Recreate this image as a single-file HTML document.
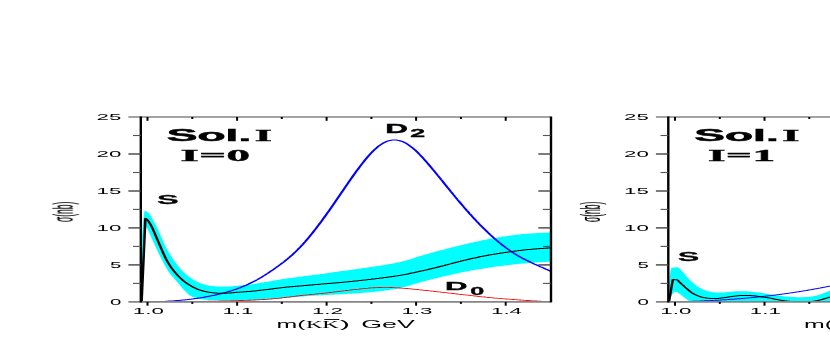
<!DOCTYPE html>
<html><head><meta charset="utf-8"><title>chart</title><style>html,body{margin:0;padding:0;background:#fff;overflow:hidden}svg{display:block}</style></head><body>
<svg width="830" height="339" viewBox="0 0 830 339">
<rect width="830" height="339" fill="#fff"/>
<defs><clipPath id="c1"><rect x="141" y="110" width="411" height="192.3"/></clipPath><clipPath id="c2"><rect x="668" y="110" width="170" height="192.3"/></clipPath></defs>
<g clip-path="url(#c1)">
<path d="M141.8,240.0 L143.2,220.4 L144.5,210.7 L145.9,210.9 L147.3,211.7 L148.6,212.9 L150.0,214.8 L151.4,217.0 L152.7,219.5 L154.1,221.9 L155.5,224.4 L156.9,227.1 L158.2,230.1 L159.6,233.2 L161.0,236.4 L162.3,239.6 L163.7,242.7 L165.1,245.7 L166.4,248.4 L167.8,250.8 L169.2,253.0 L170.5,255.2 L171.9,257.3 L173.3,259.4 L174.6,261.4 L176.0,263.3 L177.4,265.1 L178.8,266.8 L180.1,268.5 L181.5,270.0 L182.9,271.5 L184.2,272.8 L185.6,274.0 L187.0,275.1 L188.3,276.2 L189.7,277.2 L191.1,278.1 L192.4,279.0 L193.8,279.9 L195.2,280.7 L196.5,281.5 L197.9,282.1 L199.3,282.7 L200.6,283.3 L202.0,283.8 L203.4,284.2 L204.8,284.6 L206.1,284.9 L207.5,285.2 L208.9,285.5 L210.2,285.7 L211.6,285.9 L213.0,286.1 L214.3,286.2 L215.7,286.3 L217.1,286.4 L218.4,286.4 L219.8,286.5 L221.2,286.5 L222.5,286.5 L223.9,286.5 L225.3,286.5 L226.7,286.5 L228.0,286.5 L229.4,286.4 L230.8,286.4 L232.1,286.3 L233.5,286.2 L234.9,286.0 L236.2,285.9 L237.6,285.7 L239.0,285.6 L240.3,285.5 L241.7,285.4 L243.1,285.2 L244.4,285.1 L245.8,285.0 L247.2,284.8 L248.5,284.7 L249.9,284.5 L251.3,284.3 L252.7,284.2 L254.0,284.0 L255.4,283.7 L256.8,283.5 L258.1,283.3 L259.5,283.1 L260.9,282.8 L262.2,282.6 L263.6,282.4 L265.0,282.1 L266.3,281.9 L267.7,281.7 L269.1,281.4 L270.4,281.2 L271.8,281.0 L273.2,280.7 L274.6,280.5 L275.9,280.3 L277.3,280.0 L278.7,279.8 L280.0,279.6 L281.4,279.3 L282.8,279.1 L284.1,278.9 L285.5,278.7 L286.9,278.5 L288.2,278.3 L289.6,278.1 L291.0,277.9 L292.3,277.7 L293.7,277.5 L295.1,277.4 L296.4,277.2 L297.8,277.0 L299.2,276.8 L300.6,276.7 L301.9,276.5 L303.3,276.3 L304.7,276.1 L306.0,276.0 L307.4,275.8 L308.8,275.6 L310.1,275.4 L311.5,275.3 L312.9,275.1 L314.2,274.9 L315.6,274.8 L317.0,274.6 L318.3,274.4 L319.7,274.2 L321.1,274.1 L322.5,273.9 L323.8,273.7 L325.2,273.5 L326.6,273.3 L327.9,273.1 L329.3,272.9 L330.7,272.7 L332.0,272.5 L333.4,272.3 L334.8,272.1 L336.1,271.9 L337.5,271.7 L338.9,271.5 L340.2,271.3 L341.6,271.1 L343.0,270.9 L344.3,270.7 L345.7,270.6 L347.1,270.4 L348.5,270.2 L349.8,270.0 L351.2,269.8 L352.6,269.6 L353.9,269.4 L355.3,269.2 L356.7,269.0 L358.0,268.9 L359.4,268.7 L360.8,268.5 L362.1,268.3 L363.5,268.1 L364.9,267.9 L366.2,267.7 L367.6,267.5 L369.0,267.3 L370.3,267.1 L371.7,266.9 L373.1,266.7 L374.5,266.5 L375.8,266.3 L377.2,266.1 L378.6,265.9 L379.9,265.7 L381.3,265.4 L382.7,265.2 L384.0,265.0 L385.4,264.8 L386.8,264.6 L388.1,264.3 L389.5,264.1 L390.9,263.9 L392.2,263.6 L393.6,263.4 L395.0,263.1 L396.4,262.8 L397.7,262.5 L399.1,262.3 L400.5,262.0 L401.8,261.6 L403.2,261.3 L404.6,260.9 L405.9,260.5 L407.3,260.1 L408.7,259.7 L410.0,259.3 L411.4,258.9 L412.8,258.4 L414.1,258.0 L415.5,257.5 L416.9,257.1 L418.2,256.6 L419.6,256.2 L421.0,255.8 L422.4,255.4 L423.7,255.0 L425.1,254.6 L426.5,254.2 L427.8,253.9 L429.2,253.5 L430.6,253.1 L431.9,252.7 L433.3,252.3 L434.7,251.9 L436.0,251.6 L437.4,251.2 L438.8,250.8 L440.1,250.4 L441.5,250.1 L442.9,249.7 L444.3,249.4 L445.6,249.0 L447.0,248.6 L448.4,248.3 L449.7,247.9 L451.1,247.6 L452.5,247.2 L453.8,246.9 L455.2,246.6 L456.6,246.2 L457.9,245.9 L459.3,245.6 L460.7,245.2 L462.0,244.9 L463.4,244.6 L464.8,244.3 L466.1,243.9 L467.5,243.6 L468.9,243.3 L470.3,243.0 L471.6,242.7 L473.0,242.4 L474.4,242.1 L475.7,241.8 L477.1,241.5 L478.5,241.2 L479.8,240.9 L481.2,240.6 L482.6,240.3 L483.9,240.0 L485.3,239.8 L486.7,239.5 L488.0,239.2 L489.4,239.0 L490.8,238.7 L492.2,238.4 L493.5,238.2 L494.9,237.9 L496.3,237.7 L497.6,237.5 L499.0,237.2 L500.4,237.0 L501.7,236.8 L503.1,236.6 L504.5,236.4 L505.8,236.2 L507.2,236.0 L508.6,235.8 L509.9,235.6 L511.3,235.4 L512.7,235.2 L514.0,235.1 L515.4,234.9 L516.8,234.7 L518.2,234.6 L519.5,234.4 L520.9,234.3 L522.3,234.1 L523.6,234.0 L525.0,233.9 L526.4,233.8 L527.7,233.7 L529.1,233.6 L530.5,233.5 L531.8,233.4 L533.2,233.3 L534.6,233.3 L535.9,233.2 L537.3,233.1 L538.7,233.0 L540.1,233.0 L541.4,232.9 L542.8,232.8 L544.2,232.8 L545.5,232.7 L546.9,232.7 L548.3,232.6 L549.6,232.5 L551.0,232.5 L551.0,261.6 L549.6,261.7 L548.3,261.8 L546.9,261.8 L545.5,261.9 L544.2,262.0 L542.8,262.1 L541.4,262.2 L540.1,262.2 L538.7,262.3 L537.3,262.4 L535.9,262.5 L534.6,262.6 L533.2,262.7 L531.8,262.8 L530.5,262.9 L529.1,263.0 L527.7,263.1 L526.4,263.2 L525.0,263.3 L523.6,263.4 L522.3,263.5 L520.9,263.7 L519.5,263.8 L518.2,264.0 L516.8,264.1 L515.4,264.3 L514.0,264.4 L512.7,264.6 L511.3,264.7 L509.9,264.9 L508.6,265.1 L507.2,265.2 L505.8,265.4 L504.5,265.6 L503.1,265.7 L501.7,265.9 L500.4,266.1 L499.0,266.3 L497.6,266.5 L496.3,266.6 L494.9,266.8 L493.5,267.0 L492.2,267.2 L490.8,267.4 L489.4,267.6 L488.0,267.8 L486.7,268.0 L485.3,268.2 L483.9,268.4 L482.6,268.7 L481.2,268.9 L479.8,269.1 L478.5,269.3 L477.1,269.6 L475.7,269.8 L474.4,270.0 L473.0,270.3 L471.6,270.5 L470.3,270.8 L468.9,271.0 L467.5,271.3 L466.1,271.6 L464.8,271.8 L463.4,272.1 L462.0,272.4 L460.7,272.6 L459.3,272.9 L457.9,273.2 L456.6,273.5 L455.2,273.8 L453.8,274.1 L452.5,274.4 L451.1,274.7 L449.7,275.0 L448.4,275.4 L447.0,275.7 L445.6,276.0 L444.3,276.3 L442.9,276.6 L441.5,277.0 L440.1,277.3 L438.8,277.6 L437.4,277.9 L436.0,278.3 L434.7,278.6 L433.3,279.0 L431.9,279.3 L430.6,279.6 L429.2,280.0 L427.8,280.3 L426.5,280.7 L425.1,281.0 L423.7,281.4 L422.4,281.7 L421.0,282.1 L419.6,282.5 L418.2,282.9 L416.9,283.3 L415.5,283.7 L414.1,284.1 L412.8,284.5 L411.4,285.0 L410.0,285.4 L408.7,285.8 L407.3,286.2 L405.9,286.6 L404.6,286.9 L403.2,287.3 L401.8,287.6 L400.5,287.9 L399.1,288.2 L397.7,288.4 L396.4,288.7 L395.0,288.9 L393.6,289.2 L392.2,289.4 L390.9,289.6 L389.5,289.9 L388.1,290.1 L386.8,290.3 L385.4,290.5 L384.0,290.7 L382.7,290.9 L381.3,291.0 L379.9,291.2 L378.6,291.4 L377.2,291.5 L375.8,291.7 L374.5,291.8 L373.1,292.0 L371.7,292.1 L370.3,292.2 L369.0,292.4 L367.6,292.5 L366.2,292.6 L364.9,292.7 L363.5,292.8 L362.1,292.9 L360.8,293.0 L359.4,293.1 L358.0,293.2 L356.7,293.3 L355.3,293.4 L353.9,293.5 L352.6,293.6 L351.2,293.7 L349.8,293.8 L348.5,293.8 L347.1,293.9 L345.7,294.0 L344.3,294.1 L343.0,294.2 L341.6,294.2 L340.2,294.3 L338.9,294.4 L337.5,294.5 L336.1,294.5 L334.8,294.6 L333.4,294.7 L332.0,294.7 L330.7,294.8 L329.3,294.8 L327.9,294.9 L326.6,295.0 L325.2,295.0 L323.8,295.1 L322.5,295.2 L321.1,295.3 L319.7,295.3 L318.3,295.4 L317.0,295.5 L315.6,295.6 L314.2,295.7 L312.9,295.7 L311.5,295.8 L310.1,295.9 L308.8,296.0 L307.4,296.1 L306.0,296.2 L304.7,296.3 L303.3,296.4 L301.9,296.5 L300.6,296.6 L299.2,296.7 L297.8,296.8 L296.4,297.0 L295.1,297.1 L293.7,297.2 L292.3,297.3 L291.0,297.5 L289.6,297.6 L288.2,297.7 L286.9,297.8 L285.5,297.9 L284.1,298.1 L282.8,298.2 L281.4,298.3 L280.0,298.4 L278.7,298.5 L277.3,298.6 L275.9,298.7 L274.6,298.9 L273.2,299.0 L271.8,299.1 L270.4,299.1 L269.1,299.2 L267.7,299.3 L266.3,299.4 L265.0,299.5 L263.6,299.6 L262.2,299.7 L260.9,299.8 L259.5,299.9 L258.1,299.9 L256.8,300.0 L255.4,300.1 L254.0,300.1 L252.7,300.2 L251.3,300.2 L249.9,300.2 L248.5,300.2 L247.2,300.2 L245.8,300.2 L244.4,300.2 L243.1,300.2 L241.7,300.2 L240.3,300.2 L239.0,300.2 L237.6,300.2 L236.2,300.3 L234.9,300.3 L233.5,300.3 L232.1,300.3 L230.8,300.4 L229.4,300.4 L228.0,300.4 L226.7,300.4 L225.3,300.4 L223.9,300.4 L222.5,300.4 L221.2,300.3 L219.8,300.3 L218.4,300.3 L217.1,300.2 L215.7,300.2 L214.3,300.2 L213.0,300.1 L211.6,300.1 L210.2,300.0 L208.9,299.9 L207.5,299.8 L206.1,299.7 L204.8,299.6 L203.4,299.4 L202.0,299.2 L200.6,298.9 L199.3,298.6 L197.9,298.3 L196.5,298.0 L195.2,297.6 L193.8,297.2 L192.4,296.7 L191.1,296.1 L189.7,295.4 L188.3,294.3 L187.0,293.1 L185.6,291.6 L184.2,290.2 L182.9,288.7 L181.5,287.2 L180.1,285.6 L178.8,283.9 L177.4,282.3 L176.0,280.6 L174.6,279.0 L173.3,277.5 L171.9,275.9 L170.5,274.2 L169.2,272.4 L167.8,270.4 L166.4,268.1 L165.1,265.7 L163.7,263.2 L162.3,260.5 L161.0,257.9 L159.6,255.2 L158.2,252.4 L156.9,249.5 L155.5,246.6 L154.1,243.6 L152.7,240.6 L151.4,237.6 L150.0,234.4 L148.6,231.0 L147.3,228.4 L145.9,226.7 L144.5,226.3 L143.2,251.4 L141.8,301.9Z" fill="#00ffff"/>
<path transform="scale(2.4,1)" d="M58.88,301.9 L59.44,301.9 L60.01,301.9 L60.58,301.9 L61.15,301.9 L61.72,301.9 L62.29,301.9 L62.86,301.9 L63.43,301.9 L64.00,301.9 L64.57,301.9 L65.14,301.9 L65.71,301.9 L66.28,301.9 L66.85,301.9 L67.42,301.9 L67.99,301.9 L68.56,301.9 L69.13,301.9 L69.70,301.9 L70.27,301.8 L70.84,301.8 L71.41,301.8 L71.98,301.8 L72.55,301.8 L73.12,301.8 L73.69,301.8 L74.26,301.8 L74.83,301.8 L75.40,301.8 L75.97,301.8 L76.54,301.8 L77.11,301.7 L77.68,301.7 L78.25,301.7 L78.82,301.7 L79.39,301.6 L79.96,301.6 L80.53,301.6 L81.10,301.5 L81.67,301.5 L82.24,301.5 L82.81,301.4 L83.38,301.4 L83.95,301.4 L84.52,301.3 L85.09,301.3 L85.66,301.3 L86.23,301.3 L86.80,301.2 L87.37,301.2 L87.94,301.2 L88.51,301.2 L89.08,301.1 L89.65,301.1 L90.21,301.1 L90.78,301.1 L91.35,301.0 L91.92,301.0 L92.49,301.0 L93.06,300.9 L93.63,300.9 L94.20,300.9 L94.77,300.8 L95.34,300.8 L95.91,300.8 L96.48,300.7 L97.05,300.7 L97.62,300.7 L98.19,300.6 L98.76,300.6 L99.33,300.6 L99.90,300.5 L100.47,300.5 L101.04,300.5 L101.61,300.4 L102.18,300.4 L102.75,300.3 L103.32,300.3 L103.89,300.2 L104.46,300.2 L105.03,300.1 L105.60,300.1 L106.17,300.0 L106.74,299.9 L107.31,299.9 L107.88,299.8 L108.45,299.7 L109.02,299.6 L109.59,299.5 L110.16,299.5 L110.73,299.4 L111.30,299.3 L111.87,299.2 L112.44,299.1 L113.01,299.0 L113.58,298.8 L114.15,298.7 L114.72,298.6 L115.29,298.4 L115.86,298.3 L116.43,298.1 L117.00,298.0 L117.57,297.8 L118.14,297.7 L118.71,297.5 L119.28,297.4 L119.85,297.2 L120.42,297.1 L120.98,296.9 L121.55,296.7 L122.12,296.6 L122.69,296.4 L123.26,296.2 L123.83,296.0 L124.40,295.9 L124.97,295.7 L125.54,295.5 L126.11,295.4 L126.68,295.2 L127.25,295.1 L127.82,294.9 L128.39,294.8 L128.96,294.7 L129.53,294.5 L130.10,294.4 L130.67,294.3 L131.24,294.1 L131.81,294.0 L132.38,293.9 L132.95,293.7 L133.52,293.6 L134.09,293.5 L134.66,293.3 L135.23,293.1 L135.80,293.0 L136.37,292.8 L136.94,292.7 L137.51,292.5 L138.08,292.3 L138.65,292.1 L139.22,292.0 L139.79,291.8 L140.36,291.6 L140.93,291.5 L141.50,291.3 L142.07,291.1 L142.64,291.0 L143.21,290.8 L143.78,290.7 L144.35,290.5 L144.92,290.3 L145.49,290.2 L146.06,290.0 L146.63,289.9 L147.20,289.7 L147.77,289.6 L148.34,289.4 L148.91,289.3 L149.48,289.2 L150.05,289.0 L150.62,288.9 L151.19,288.7 L151.76,288.6 L152.32,288.4 L152.89,288.3 L153.46,288.2 L154.03,288.0 L154.60,287.9 L155.17,287.8 L155.74,287.7 L156.31,287.7 L156.88,287.6 L157.45,287.6 L158.02,287.5 L158.59,287.5 L159.16,287.4 L159.73,287.4 L160.30,287.4 L160.87,287.4 L161.44,287.4 L162.01,287.4 L162.58,287.5 L163.15,287.5 L163.72,287.6 L164.29,287.7 L164.86,287.8 L165.43,287.8 L166.00,287.9 L166.57,288.0 L167.14,288.1 L167.71,288.2 L168.28,288.3 L168.85,288.4 L169.42,288.5 L169.99,288.6 L170.56,288.7 L171.13,288.8 L171.70,289.0 L172.27,289.1 L172.84,289.3 L173.41,289.4 L173.98,289.5 L174.55,289.7 L175.12,289.8 L175.69,290.0 L176.26,290.1 L176.83,290.3 L177.40,290.4 L177.97,290.5 L178.54,290.7 L179.11,290.8 L179.68,291.0 L180.25,291.1 L180.82,291.3 L181.39,291.5 L181.96,291.6 L182.53,291.8 L183.09,291.9 L183.66,292.1 L184.23,292.3 L184.80,292.4 L185.37,292.6 L185.94,292.7 L186.51,292.9 L187.08,293.1 L187.65,293.2 L188.22,293.4 L188.79,293.5 L189.36,293.7 L189.93,293.9 L190.50,294.0 L191.07,294.2 L191.64,294.3 L192.21,294.5 L192.78,294.6 L193.35,294.8 L193.92,294.9 L194.49,295.1 L195.06,295.2 L195.63,295.4 L196.20,295.6 L196.77,295.7 L197.34,295.9 L197.91,296.0 L198.48,296.2 L199.05,296.3 L199.62,296.5 L200.19,296.6 L200.76,296.8 L201.33,296.9 L201.90,297.0 L202.47,297.2 L203.04,297.3 L203.61,297.5 L204.18,297.6 L204.75,297.7 L205.32,297.8 L205.89,298.0 L206.46,298.1 L207.03,298.2 L207.60,298.3 L208.17,298.4 L208.74,298.6 L209.31,298.7 L209.88,298.8 L210.45,298.9 L211.02,299.0 L211.59,299.1 L212.16,299.2 L212.73,299.3 L213.30,299.4 L213.86,299.5 L214.43,299.6 L215.00,299.7 L215.57,299.8 L216.14,299.9 L216.71,300.0 L217.28,300.1 L217.85,300.2 L218.42,300.3 L218.99,300.4 L219.56,300.5 L220.13,300.5 L220.70,300.6 L221.27,300.7 L221.84,300.8 L222.41,300.8 L222.98,300.9 L223.55,301.0 L224.12,301.1 L224.69,301.1 L225.26,301.2 L225.83,301.3 L226.40,301.3 L226.97,301.4 L227.54,301.4 L228.11,301.5 L228.68,301.5 L229.25,301.6" fill="none" stroke="#ff0000" stroke-width="0.85" stroke-linejoin="round"/>
<path transform="scale(2.4,1)" d="M58.88,301.9 L59.30,301.9 L59.73,301.9 L60.16,301.9 L60.59,301.9 L61.02,301.9 L61.45,301.9 L61.88,301.9 L62.31,301.9 L62.73,301.8 L63.16,301.8 L63.59,301.8 L64.02,301.8 L64.45,301.7 L64.88,301.7 L65.31,301.7 L65.74,301.6 L66.17,301.6 L66.59,301.6 L67.02,301.5 L67.45,301.5 L67.88,301.5 L68.31,301.4 L68.74,301.4 L69.17,301.3 L69.60,301.2 L70.03,301.2 L70.45,301.1 L70.88,301.1 L71.31,301.0 L71.74,300.9 L72.17,300.9 L72.60,300.8 L73.03,300.7 L73.46,300.6 L73.89,300.6 L74.31,300.5 L74.74,300.4 L75.17,300.3 L75.60,300.2 L76.03,300.1 L76.46,300.0 L76.89,299.9 L77.32,299.8 L77.75,299.7 L78.17,299.6 L78.60,299.4 L79.03,299.3 L79.46,299.2 L79.89,299.1 L80.32,298.9 L80.75,298.8 L81.18,298.6 L81.61,298.5 L82.03,298.4 L82.46,298.2 L82.89,298.0 L83.32,297.9 L83.75,297.7 L84.18,297.6 L84.61,297.4 L85.04,297.2 L85.47,297.0 L85.89,296.8 L86.32,296.6 L86.75,296.5 L87.18,296.3 L87.61,296.1 L88.04,295.8 L88.47,295.6 L88.90,295.4 L89.33,295.2 L89.75,295.0 L90.18,294.7 L90.61,294.5 L91.04,294.3 L91.47,294.0 L91.90,293.8 L92.33,293.5 L92.76,293.2 L93.19,293.0 L93.61,292.7 L94.04,292.4 L94.47,292.1 L94.90,291.8 L95.33,291.5 L95.76,291.2 L96.19,290.9 L96.62,290.6 L97.05,290.2 L97.47,289.9 L97.90,289.5 L98.33,289.2 L98.76,288.8 L99.19,288.4 L99.62,288.0 L100.05,287.7 L100.48,287.2 L100.91,286.8 L101.33,286.4 L101.76,286.0 L102.19,285.5 L102.62,285.1 L103.05,284.6 L103.48,284.2 L103.91,283.7 L104.34,283.2 L104.77,282.7 L105.19,282.2 L105.62,281.7 L106.05,281.1 L106.48,280.6 L106.91,280.0 L107.34,279.5 L107.77,278.9 L108.20,278.3 L108.63,277.7 L109.05,277.1 L109.48,276.4 L109.91,275.8 L110.34,275.2 L110.77,274.5 L111.20,273.8 L111.63,273.2 L112.06,272.5 L112.49,271.8 L112.91,271.1 L113.34,270.4 L113.77,269.7 L114.20,268.9 L114.63,268.2 L115.06,267.5 L115.49,266.7 L115.92,266.0 L116.35,265.2 L116.77,264.5 L117.20,263.7 L117.63,262.9 L118.06,262.2 L118.49,261.4 L118.92,260.5 L119.35,259.7 L119.78,258.9 L120.21,258.0 L120.63,257.2 L121.06,256.3 L121.49,255.4 L121.92,254.5 L122.35,253.5 L122.78,252.6 L123.21,251.6 L123.64,250.6 L124.07,249.6 L124.49,248.5 L124.92,247.5 L125.35,246.4 L125.78,245.3 L126.21,244.2 L126.64,243.0 L127.07,241.9 L127.50,240.7 L127.93,239.5 L128.35,238.3 L128.78,237.1 L129.21,235.8 L129.64,234.6 L130.07,233.3 L130.50,232.0 L130.93,230.7 L131.36,229.4 L131.79,228.1 L132.21,226.7 L132.64,225.4 L133.07,224.0 L133.50,222.6 L133.93,221.3 L134.36,219.9 L134.79,218.4 L135.22,217.0 L135.65,215.6 L136.07,214.2 L136.50,212.7 L136.93,211.3 L137.36,209.8 L137.79,208.3 L138.22,206.8 L138.65,205.4 L139.08,203.9 L139.51,202.4 L139.93,200.9 L140.36,199.4 L140.79,197.9 L141.22,196.4 L141.65,194.9 L142.08,193.4 L142.51,191.8 L142.94,190.3 L143.37,188.8 L143.79,187.3 L144.22,185.8 L144.65,184.3 L145.08,182.9 L145.51,181.4 L145.94,179.9 L146.37,178.4 L146.80,177.0 L147.23,175.5 L147.65,174.1 L148.08,172.7 L148.51,171.2 L148.94,169.8 L149.37,168.5 L149.80,167.1 L150.23,165.7 L150.66,164.4 L151.09,163.1 L151.51,161.8 L151.94,160.5 L152.37,159.2 L152.80,158.0 L153.23,156.8 L153.66,155.6 L154.09,154.5 L154.52,153.4 L154.95,152.3 L155.37,151.3 L155.80,150.3 L156.23,149.3 L156.66,148.4 L157.09,147.5 L157.52,146.6 L157.95,145.8 L158.38,145.1 L158.81,144.4 L159.23,143.7 L159.66,143.1 L160.09,142.6 L160.52,142.1 L160.95,141.6 L161.38,141.2 L161.81,140.9 L162.24,140.6 L162.67,140.4 L163.09,140.2 L163.52,140.1 L163.95,140.0 L164.38,140.0 L164.81,140.0 L165.24,140.1 L165.67,140.3 L166.10,140.4 L166.53,140.7 L166.95,141.0 L167.38,141.3 L167.81,141.7 L168.24,142.2 L168.67,142.7 L169.10,143.2 L169.53,143.8 L169.96,144.5 L170.39,145.2 L170.81,145.9 L171.24,146.7 L171.67,147.5 L172.10,148.3 L172.53,149.2 L172.96,150.1 L173.39,151.0 L173.82,152.0 L174.24,153.0 L174.67,154.1 L175.10,155.1 L175.53,156.2 L175.96,157.3 L176.39,158.4 L176.82,159.6 L177.25,160.7 L177.68,161.9 L178.10,163.1 L178.53,164.3 L178.96,165.5 L179.39,166.7 L179.82,167.9 L180.25,169.2 L180.68,170.4 L181.11,171.6 L181.54,172.9 L181.96,174.1 L182.39,175.4 L182.82,176.6 L183.25,177.9 L183.68,179.2 L184.11,180.4 L184.54,181.7 L184.97,183.0 L185.40,184.3 L185.82,185.5 L186.25,186.8 L186.68,188.1 L187.11,189.3 L187.54,190.6 L187.97,191.9 L188.40,193.1 L188.83,194.4 L189.26,195.6 L189.68,196.9 L190.11,198.1 L190.54,199.4 L190.97,200.6 L191.40,201.8 L191.83,203.0 L192.26,204.2 L192.69,205.4 L193.12,206.6 L193.54,207.8 L193.97,209.0 L194.40,210.2 L194.83,211.3 L195.26,212.5 L195.69,213.7 L196.12,214.8 L196.55,215.9 L196.98,217.1 L197.40,218.2 L197.83,219.3 L198.26,220.4 L198.69,221.5 L199.12,222.5 L199.55,223.6 L199.98,224.7 L200.41,225.7 L200.84,226.8 L201.26,227.8 L201.69,228.8 L202.12,229.8 L202.55,230.8 L202.98,231.8 L203.41,232.8 L203.84,233.7 L204.27,234.7 L204.70,235.6 L205.12,236.6 L205.55,237.5 L205.98,238.4 L206.41,239.3 L206.84,240.2 L207.27,241.0 L207.70,241.9 L208.13,242.8 L208.56,243.6 L208.98,244.4 L209.41,245.2 L209.84,246.0 L210.27,246.8 L210.70,247.6 L211.13,248.3 L211.56,249.1 L211.99,249.8 L212.42,250.5 L212.84,251.2 L213.27,251.9 L213.70,252.6 L214.13,253.3 L214.56,253.9 L214.99,254.5 L215.42,255.2 L215.85,255.8 L216.28,256.4 L216.70,256.9 L217.13,257.5 L217.56,258.1 L217.99,258.6 L218.42,259.1 L218.85,259.7 L219.28,260.2 L219.71,260.7 L220.14,261.2 L220.56,261.7 L220.99,262.2 L221.42,262.7 L221.85,263.1 L222.28,263.6 L222.71,264.1 L223.14,264.5 L223.57,265.0 L224.00,265.4 L224.42,265.9 L224.85,266.3 L225.28,266.8 L225.71,267.2 L226.14,267.7 L226.57,268.1 L227.00,268.6 L227.43,269.1 L227.86,269.5 L228.28,270.0 L228.71,270.4 L229.14,270.9 L229.57,271.4 L230.00,271.8" fill="none" stroke="#0000ff" stroke-width="1.05" stroke-linejoin="round"/>
<path transform="scale(2.4,1)" d="M59.00,301.9 L60.58,218.4 L61.01,219.0 L61.43,219.9 L61.85,221.2 L62.28,222.8 L62.70,224.5 L63.12,226.3 L63.55,228.4 L63.97,230.6 L64.40,233.0 L64.82,235.4 L65.24,237.8 L65.67,240.2 L66.09,242.5 L66.51,244.8 L66.94,247.2 L67.36,249.5 L67.78,251.9 L68.21,254.1 L68.63,256.3 L69.05,258.4 L69.48,260.3 L69.90,262.1 L70.33,263.8 L70.75,265.4 L71.17,266.9 L71.60,268.3 L72.02,269.7 L72.44,271.0 L72.87,272.2 L73.29,273.4 L73.71,274.5 L74.14,275.6 L74.56,276.6 L74.98,277.6 L75.41,278.6 L75.83,279.5 L76.26,280.4 L76.68,281.2 L77.10,282.0 L77.53,282.7 L77.95,283.5 L78.37,284.1 L78.80,284.8 L79.22,285.4 L79.64,286.0 L80.07,286.6 L80.49,287.1 L80.91,287.7 L81.34,288.2 L81.76,288.7 L82.18,289.1 L82.61,289.5 L83.03,289.8 L83.46,290.2 L83.88,290.5 L84.30,290.8 L84.73,291.1 L85.15,291.3 L85.57,291.6 L86.00,291.8 L86.42,292.0 L86.84,292.2 L87.27,292.3 L87.69,292.5 L88.11,292.6 L88.54,292.7 L88.96,292.8 L89.39,292.9 L89.81,293.0 L90.23,293.1 L90.66,293.2 L91.08,293.2 L91.50,293.3 L91.93,293.3 L92.35,293.3 L92.77,293.3 L93.20,293.2 L93.62,293.2 L94.04,293.1 L94.47,293.1 L94.89,293.0 L95.32,293.0 L95.74,292.9 L96.16,292.9 L96.59,292.8 L97.01,292.7 L97.43,292.6 L97.86,292.5 L98.28,292.4 L98.70,292.3 L99.13,292.3 L99.55,292.2 L99.97,292.1 L100.40,292.0 L100.82,291.9 L101.24,291.9 L101.67,291.8 L102.09,291.7 L102.52,291.7 L102.94,291.6 L103.36,291.5 L103.79,291.5 L104.21,291.4 L104.63,291.3 L105.06,291.2 L105.48,291.1 L105.90,291.0 L106.33,290.9 L106.75,290.8 L107.17,290.7 L107.60,290.6 L108.02,290.5 L108.45,290.3 L108.87,290.2 L109.29,290.1 L109.72,290.0 L110.14,289.8 L110.56,289.7 L110.99,289.6 L111.41,289.5 L111.83,289.4 L112.26,289.2 L112.68,289.1 L113.10,289.0 L113.53,288.9 L113.95,288.7 L114.38,288.6 L114.80,288.5 L115.22,288.3 L115.65,288.2 L116.07,288.1 L116.49,288.0 L116.92,287.8 L117.34,287.7 L117.76,287.6 L118.19,287.5 L118.61,287.4 L119.03,287.2 L119.46,287.1 L119.88,287.0 L120.31,286.9 L120.73,286.8 L121.15,286.8 L121.58,286.7 L122.00,286.6 L122.42,286.5 L122.85,286.4 L123.27,286.3 L123.69,286.2 L124.12,286.1 L124.54,286.1 L124.96,286.0 L125.39,285.9 L125.81,285.8 L126.23,285.7 L126.66,285.6 L127.08,285.5 L127.51,285.4 L127.93,285.3 L128.35,285.3 L128.78,285.2 L129.20,285.1 L129.62,285.0 L130.05,284.9 L130.47,284.8 L130.89,284.7 L131.32,284.6 L131.74,284.5 L132.16,284.4 L132.59,284.4 L133.01,284.3 L133.44,284.2 L133.86,284.1 L134.28,284.0 L134.71,283.9 L135.13,283.8 L135.55,283.7 L135.98,283.7 L136.40,283.6 L136.82,283.5 L137.25,283.4 L137.67,283.3 L138.09,283.3 L138.52,283.2 L138.94,283.1 L139.37,283.0 L139.79,282.9 L140.21,282.8 L140.64,282.8 L141.06,282.7 L141.48,282.6 L141.91,282.5 L142.33,282.4 L142.75,282.3 L143.18,282.2 L143.60,282.1 L144.02,282.0 L144.45,281.9 L144.87,281.8 L145.30,281.7 L145.72,281.6 L146.14,281.5 L146.57,281.4 L146.99,281.3 L147.41,281.2 L147.84,281.1 L148.26,281.0 L148.68,280.9 L149.11,280.8 L149.53,280.6 L149.95,280.5 L150.38,280.4 L150.80,280.3 L151.22,280.2 L151.65,280.1 L152.07,280.0 L152.50,279.9 L152.92,279.7 L153.34,279.6 L153.77,279.5 L154.19,279.4 L154.61,279.3 L155.04,279.1 L155.46,279.0 L155.88,278.9 L156.31,278.8 L156.73,278.6 L157.15,278.5 L157.58,278.4 L158.00,278.3 L158.43,278.1 L158.85,278.0 L159.27,277.9 L159.70,277.7 L160.12,277.6 L160.54,277.5 L160.97,277.4 L161.39,277.2 L161.81,277.1 L162.24,276.9 L162.66,276.8 L163.08,276.7 L163.51,276.5 L163.93,276.4 L164.36,276.2 L164.78,276.1 L165.20,275.9 L165.63,275.8 L166.05,275.6 L166.47,275.4 L166.90,275.3 L167.32,275.1 L167.74,274.9 L168.17,274.7 L168.59,274.6 L169.01,274.4 L169.44,274.2 L169.86,274.0 L170.29,273.8 L170.71,273.5 L171.13,273.3 L171.56,273.1 L171.98,272.9 L172.40,272.7 L172.83,272.5 L173.25,272.2 L173.67,272.0 L174.10,271.8 L174.52,271.6 L174.94,271.3 L175.37,271.1 L175.79,270.9 L176.21,270.7 L176.64,270.4 L177.06,270.2 L177.49,270.0 L177.91,269.7 L178.33,269.5 L178.76,269.2 L179.18,269.0 L179.60,268.8 L180.03,268.5 L180.45,268.3 L180.87,268.0 L181.30,267.8 L181.72,267.5 L182.14,267.3 L182.57,267.0 L182.99,266.8 L183.42,266.5 L183.84,266.2 L184.26,266.0 L184.69,265.7 L185.11,265.5 L185.53,265.2 L185.96,264.9 L186.38,264.7 L186.80,264.4 L187.23,264.1 L187.65,263.9 L188.07,263.6 L188.50,263.3 L188.92,263.0 L189.35,262.8 L189.77,262.5 L190.19,262.2 L190.62,262.0 L191.04,261.7 L191.46,261.4 L191.89,261.2 L192.31,260.9 L192.73,260.7 L193.16,260.4 L193.58,260.2 L194.00,260.0 L194.43,259.7 L194.85,259.5 L195.28,259.3 L195.70,259.0 L196.12,258.8 L196.55,258.6 L196.97,258.3 L197.39,258.1 L197.82,257.9 L198.24,257.7 L198.66,257.5 L199.09,257.3 L199.51,257.0 L199.93,256.8 L200.36,256.6 L200.78,256.4 L201.20,256.2 L201.63,256.0 L202.05,255.8 L202.48,255.7 L202.90,255.5 L203.32,255.3 L203.75,255.1 L204.17,254.9 L204.59,254.7 L205.02,254.6 L205.44,254.4 L205.86,254.2 L206.29,254.0 L206.71,253.9 L207.13,253.7 L207.56,253.5 L207.98,253.4 L208.41,253.2 L208.83,253.1 L209.25,252.9 L209.68,252.8 L210.10,252.6 L210.52,252.5 L210.95,252.3 L211.37,252.2 L211.79,252.0 L212.22,251.9 L212.64,251.7 L213.06,251.6 L213.49,251.4 L213.91,251.3 L214.34,251.2 L214.76,251.0 L215.18,250.9 L215.61,250.8 L216.03,250.6 L216.45,250.5 L216.88,250.4 L217.30,250.3 L217.72,250.2 L218.15,250.0 L218.57,249.9 L218.99,249.8 L219.42,249.7 L219.84,249.6 L220.27,249.5 L220.69,249.5 L221.11,249.4 L221.54,249.3 L221.96,249.2 L222.38,249.1 L222.81,249.0 L223.23,248.9 L223.65,248.8 L224.08,248.8 L224.50,248.7 L224.92,248.6 L225.35,248.5 L225.77,248.5 L226.19,248.4 L226.62,248.3 L227.04,248.3 L227.47,248.2 L227.89,248.1 L228.31,248.1 L228.74,248.0 L229.16,248.0 L229.58,247.9" fill="none" stroke="#000" stroke-width="1.05" stroke-linejoin="round"/>
</g>
<g clip-path="url(#c2)">
<path d="M668.8,285.0 L669.3,280.3 L669.9,275.6 L670.4,271.6 L671.0,268.9 L671.5,268.0 L672.0,267.8 L672.6,267.7 L673.1,267.6 L673.7,267.6 L674.2,267.5 L674.7,267.4 L675.3,267.4 L675.8,267.3 L676.3,267.3 L676.9,267.3 L677.4,267.3 L678.0,267.4 L678.5,267.6 L679.0,268.0 L679.6,268.5 L680.1,269.1 L680.7,269.7 L681.2,270.2 L681.7,270.7 L682.3,271.4 L682.8,272.0 L683.4,272.7 L683.9,273.3 L684.4,274.0 L685.0,274.7 L685.5,275.3 L686.1,275.9 L686.6,276.5 L687.1,277.1 L687.7,277.7 L688.2,278.2 L688.7,278.8 L689.3,279.3 L689.8,279.9 L690.4,280.4 L690.9,280.9 L691.4,281.4 L692.0,281.9 L692.5,282.4 L693.1,282.9 L693.6,283.3 L694.1,283.8 L694.7,284.2 L695.2,284.7 L695.8,285.1 L696.3,285.5 L696.8,285.9 L697.4,286.3 L697.9,286.7 L698.5,287.0 L699.0,287.3 L699.5,287.7 L700.1,288.0 L700.6,288.3 L701.1,288.6 L701.7,288.8 L702.2,289.1 L702.8,289.3 L703.3,289.6 L703.8,289.8 L704.4,290.0 L704.9,290.2 L705.5,290.4 L706.0,290.6 L706.5,290.8 L707.1,290.9 L707.6,291.1 L708.2,291.2 L708.7,291.4 L709.2,291.5 L709.8,291.6 L710.3,291.7 L710.9,291.8 L711.4,291.9 L711.9,292.0 L712.5,292.1 L713.0,292.2 L713.5,292.3 L714.1,292.4 L714.6,292.4 L715.2,292.5 L715.7,292.5 L716.2,292.5 L716.8,292.5 L717.3,292.5 L717.9,292.5 L718.4,292.5 L718.9,292.5 L719.5,292.5 L720.0,292.5 L720.6,292.5 L721.1,292.5 L721.6,292.5 L722.2,292.5 L722.7,292.5 L723.3,292.5 L723.8,292.4 L724.3,292.4 L724.9,292.4 L725.4,292.3 L725.9,292.2 L726.5,292.2 L727.0,292.1 L727.6,292.1 L728.1,292.0 L728.6,292.0 L729.2,291.9 L729.7,291.8 L730.3,291.8 L730.8,291.7 L731.3,291.7 L731.9,291.6 L732.4,291.5 L733.0,291.5 L733.5,291.5 L734.0,291.4 L734.6,291.4 L735.1,291.4 L735.7,291.3 L736.2,291.3 L736.7,291.3 L737.3,291.3 L737.8,291.2 L738.3,291.2 L738.9,291.2 L739.4,291.2 L740.0,291.2 L740.5,291.2 L741.0,291.2 L741.6,291.2 L742.1,291.2 L742.7,291.2 L743.2,291.2 L743.7,291.2 L744.3,291.2 L744.8,291.3 L745.4,291.3 L745.9,291.3 L746.4,291.3 L747.0,291.3 L747.5,291.4 L748.1,291.4 L748.6,291.5 L749.1,291.5 L749.7,291.6 L750.2,291.7 L750.7,291.7 L751.3,291.8 L751.8,291.9 L752.4,291.9 L752.9,292.0 L753.4,292.0 L754.0,292.1 L754.5,292.1 L755.1,292.2 L755.6,292.2 L756.1,292.2 L756.7,292.3 L757.2,292.3 L757.8,292.4 L758.3,292.5 L758.8,292.5 L759.4,292.6 L759.9,292.6 L760.5,292.7 L761.0,292.8 L761.5,292.9 L762.1,292.9 L762.6,293.0 L763.1,293.1 L763.7,293.2 L764.2,293.3 L764.8,293.4 L765.3,293.5 L765.8,293.6 L766.4,293.7 L766.9,293.8 L767.5,293.9 L768.0,294.0 L768.5,294.1 L769.1,294.2 L769.6,294.3 L770.2,294.3 L770.7,294.4 L771.2,294.5 L771.8,294.6 L772.3,294.7 L772.9,294.8 L773.4,294.9 L773.9,295.0 L774.5,295.1 L775.0,295.2 L775.5,295.3 L776.1,295.4 L776.6,295.5 L777.2,295.6 L777.7,295.6 L778.2,295.7 L778.8,295.8 L779.3,295.8 L779.9,295.9 L780.4,296.0 L780.9,296.0 L781.5,296.1 L782.0,296.1 L782.6,296.2 L783.1,296.3 L783.6,296.3 L784.2,296.4 L784.7,296.4 L785.3,296.4 L785.8,296.5 L786.3,296.5 L786.9,296.6 L787.4,296.6 L787.9,296.7 L788.5,296.7 L789.0,296.7 L789.6,296.8 L790.1,296.8 L790.6,296.8 L791.2,296.9 L791.7,296.9 L792.3,297.0 L792.8,297.0 L793.3,297.0 L793.9,297.1 L794.4,297.1 L795.0,297.1 L795.5,297.1 L796.0,297.2 L796.6,297.2 L797.1,297.2 L797.7,297.2 L798.2,297.2 L798.7,297.2 L799.3,297.2 L799.8,297.2 L800.3,297.2 L800.9,297.2 L801.4,297.2 L802.0,297.2 L802.5,297.2 L803.0,297.1 L803.6,297.1 L804.1,297.1 L804.7,297.1 L805.2,297.1 L805.7,297.1 L806.3,297.1 L806.8,297.0 L807.4,297.0 L807.9,297.0 L808.4,297.0 L809.0,296.9 L809.5,296.9 L810.1,296.8 L810.6,296.7 L811.1,296.7 L811.7,296.6 L812.2,296.5 L812.7,296.4 L813.3,296.3 L813.8,296.2 L814.4,296.0 L814.9,295.9 L815.4,295.8 L816.0,295.7 L816.5,295.5 L817.1,295.4 L817.6,295.3 L818.1,295.1 L818.7,295.0 L819.2,294.8 L819.8,294.6 L820.3,294.4 L820.8,294.2 L821.4,294.0 L821.9,293.8 L822.5,293.6 L823.0,293.4 L823.5,293.2 L824.1,293.0 L824.6,292.8 L825.1,292.6 L825.7,292.4 L826.2,292.1 L826.8,291.9 L827.3,291.7 L827.8,291.5 L828.4,291.2 L828.9,291.0 L829.5,290.7 L830.0,290.5 L830.0,301.9 L829.5,301.9 L828.9,301.9 L828.4,301.9 L827.8,301.9 L827.3,301.9 L826.8,301.9 L826.2,301.9 L825.7,301.9 L825.1,301.9 L824.6,301.9 L824.1,301.9 L823.5,301.9 L823.0,301.9 L822.5,301.9 L821.9,301.9 L821.4,301.9 L820.8,301.9 L820.3,301.9 L819.8,301.9 L819.2,301.9 L818.7,301.9 L818.1,301.9 L817.6,301.9 L817.1,301.9 L816.5,301.9 L816.0,301.9 L815.4,301.9 L814.9,301.9 L814.4,301.9 L813.8,301.9 L813.3,301.9 L812.7,301.9 L812.2,301.9 L811.7,301.9 L811.1,301.9 L810.6,301.9 L810.1,301.9 L809.5,301.9 L809.0,301.9 L808.4,301.9 L807.9,301.9 L807.4,301.9 L806.8,301.9 L806.3,301.9 L805.7,301.9 L805.2,301.9 L804.7,301.9 L804.1,301.9 L803.6,301.9 L803.0,301.9 L802.5,301.9 L802.0,301.9 L801.4,301.9 L800.9,301.9 L800.3,301.9 L799.8,301.9 L799.3,301.9 L798.7,301.9 L798.2,301.9 L797.7,301.9 L797.1,301.9 L796.6,301.9 L796.0,301.9 L795.5,301.9 L795.0,301.9 L794.4,301.9 L793.9,301.9 L793.3,301.9 L792.8,301.9 L792.3,301.9 L791.7,301.9 L791.2,301.9 L790.6,301.9 L790.1,301.9 L789.6,301.9 L789.0,301.9 L788.5,301.9 L787.9,301.9 L787.4,301.9 L786.9,301.9 L786.3,301.9 L785.8,301.9 L785.3,301.9 L784.7,301.9 L784.2,301.9 L783.6,301.9 L783.1,301.9 L782.6,301.9 L782.0,301.9 L781.5,301.9 L780.9,301.9 L780.4,301.9 L779.9,301.9 L779.3,301.9 L778.8,301.9 L778.2,301.9 L777.7,301.9 L777.2,301.9 L776.6,301.9 L776.1,301.9 L775.5,301.9 L775.0,301.9 L774.5,301.9 L773.9,301.9 L773.4,301.9 L772.9,301.9 L772.3,301.9 L771.8,301.9 L771.2,301.9 L770.7,301.9 L770.2,301.9 L769.6,301.9 L769.1,301.9 L768.5,301.9 L768.0,301.9 L767.5,301.9 L766.9,301.9 L766.4,301.9 L765.8,301.9 L765.3,301.9 L764.8,301.9 L764.2,301.9 L763.7,301.9 L763.1,301.9 L762.6,301.9 L762.1,301.9 L761.5,301.9 L761.0,301.9 L760.5,301.9 L759.9,301.9 L759.4,301.9 L758.8,301.9 L758.3,301.9 L757.8,301.9 L757.2,301.9 L756.7,301.9 L756.1,301.9 L755.6,301.9 L755.1,301.9 L754.5,301.9 L754.0,301.9 L753.4,301.9 L752.9,301.9 L752.4,301.9 L751.8,301.9 L751.3,301.9 L750.7,301.9 L750.2,301.9 L749.7,301.9 L749.1,301.9 L748.6,301.9 L748.1,301.9 L747.5,301.9 L747.0,301.9 L746.4,301.9 L745.9,301.9 L745.4,301.9 L744.8,301.9 L744.3,301.9 L743.7,301.9 L743.2,301.9 L742.7,301.9 L742.1,301.9 L741.6,301.9 L741.0,301.9 L740.5,301.9 L740.0,301.9 L739.4,301.9 L738.9,301.9 L738.3,301.9 L737.8,301.9 L737.3,301.9 L736.7,301.9 L736.2,301.9 L735.7,301.9 L735.1,301.9 L734.6,301.9 L734.0,301.9 L733.5,301.9 L733.0,301.9 L732.4,301.9 L731.9,301.9 L731.3,301.9 L730.8,301.9 L730.3,301.9 L729.7,301.9 L729.2,301.9 L728.6,301.9 L728.1,301.9 L727.6,301.9 L727.0,301.9 L726.5,301.9 L725.9,301.9 L725.4,301.9 L724.9,301.9 L724.3,301.9 L723.8,301.9 L723.3,301.9 L722.7,301.9 L722.2,301.9 L721.6,301.9 L721.1,301.9 L720.6,301.9 L720.0,301.9 L719.5,301.9 L718.9,301.9 L718.4,301.9 L717.9,301.9 L717.3,301.9 L716.8,301.9 L716.2,301.9 L715.7,301.9 L715.2,301.9 L714.6,301.9 L714.1,301.9 L713.5,301.9 L713.0,301.9 L712.5,301.9 L711.9,301.9 L711.4,301.9 L710.9,301.9 L710.3,301.9 L709.8,301.9 L709.2,301.9 L708.7,301.9 L708.2,301.9 L707.6,301.9 L707.1,301.9 L706.5,301.9 L706.0,301.9 L705.5,301.9 L704.9,301.9 L704.4,301.9 L703.8,301.9 L703.3,301.9 L702.8,301.9 L702.2,301.9 L701.7,301.9 L701.1,301.9 L700.6,301.9 L700.1,301.9 L699.5,301.9 L699.0,301.9 L698.5,301.9 L697.9,301.9 L697.4,301.9 L696.8,301.8 L696.3,301.8 L695.8,301.8 L695.2,301.8 L694.7,301.7 L694.1,301.7 L693.6,301.6 L693.1,301.6 L692.5,301.5 L692.0,301.5 L691.4,301.4 L690.9,301.4 L690.4,301.3 L689.8,301.2 L689.3,301.0 L688.7,300.7 L688.2,300.4 L687.7,300.0 L687.1,299.6 L686.6,299.2 L686.1,298.9 L685.5,298.5 L685.0,298.1 L684.4,297.6 L683.9,297.2 L683.4,296.7 L682.8,296.3 L682.3,295.8 L681.7,295.4 L681.2,294.9 L680.7,294.5 L680.1,294.2 L679.6,293.8 L679.0,293.5 L678.5,293.1 L678.0,292.8 L677.4,292.4 L676.9,292.1 L676.3,291.9 L675.8,291.8 L675.3,291.7 L674.7,291.8 L674.2,292.1 L673.7,292.6 L673.1,293.2 L672.6,294.0 L672.0,294.8 L671.5,295.7 L671.0,296.6 L670.4,297.6 L669.9,298.9 L669.3,300.4 L668.8,301.9Z" fill="#00ffff"/>
<path transform="scale(2.4,1)" d="M278.54,301.9 L278.88,301.9 L279.22,301.9 L279.56,301.9 L279.89,301.8 L280.23,301.8 L280.57,301.8 L280.91,301.8 L281.25,301.8 L281.59,301.8 L281.92,301.8 L282.26,301.7 L282.60,301.7 L282.94,301.7 L283.28,301.7 L283.61,301.7 L283.95,301.7 L284.29,301.6 L284.63,301.6 L284.97,301.6 L285.30,301.6 L285.64,301.5 L285.98,301.5 L286.32,301.5 L286.66,301.5 L287.00,301.5 L287.33,301.4 L287.67,301.4 L288.01,301.4 L288.35,301.4 L288.69,301.3 L289.02,301.3 L289.36,301.3 L289.70,301.2 L290.04,301.2 L290.38,301.2 L290.72,301.2 L291.05,301.1 L291.39,301.1 L291.73,301.1 L292.07,301.0 L292.41,301.0 L292.74,301.0 L293.08,300.9 L293.42,300.9 L293.76,300.8 L294.10,300.8 L294.43,300.8 L294.77,300.7 L295.11,300.7 L295.45,300.7 L295.79,300.6 L296.13,300.6 L296.46,300.5 L296.80,300.5 L297.14,300.4 L297.48,300.4 L297.82,300.4 L298.15,300.3 L298.49,300.3 L298.83,300.2 L299.17,300.2 L299.51,300.1 L299.85,300.1 L300.18,300.0 L300.52,300.0 L300.86,299.9 L301.20,299.9 L301.54,299.8 L301.87,299.8 L302.21,299.7 L302.55,299.7 L302.89,299.6 L303.23,299.6 L303.56,299.5 L303.90,299.5 L304.24,299.4 L304.58,299.3 L304.92,299.3 L305.26,299.2 L305.59,299.2 L305.93,299.1 L306.27,299.0 L306.61,299.0 L306.95,298.9 L307.28,298.8 L307.62,298.8 L307.96,298.7 L308.30,298.7 L308.64,298.6 L308.98,298.5 L309.31,298.5 L309.65,298.4 L309.99,298.3 L310.33,298.2 L310.67,298.2 L311.00,298.1 L311.34,298.0 L311.68,298.0 L312.02,297.9 L312.36,297.8 L312.69,297.7 L313.03,297.7 L313.37,297.6 L313.71,297.5 L314.05,297.4 L314.39,297.3 L314.72,297.3 L315.06,297.2 L315.40,297.1 L315.74,297.0 L316.08,296.9 L316.41,296.8 L316.75,296.8 L317.09,296.7 L317.43,296.6 L317.77,296.5 L318.11,296.4 L318.44,296.3 L318.78,296.2 L319.12,296.1 L319.46,296.0 L319.80,296.0 L320.13,295.9 L320.47,295.8 L320.81,295.7 L321.15,295.6 L321.49,295.5 L321.82,295.4 L322.16,295.3 L322.50,295.2 L322.84,295.1 L323.18,295.0 L323.52,294.9 L323.85,294.8 L324.19,294.7 L324.53,294.6 L324.87,294.5 L325.21,294.4 L325.54,294.2 L325.88,294.1 L326.22,294.0 L326.56,293.9 L326.90,293.8 L327.24,293.7 L327.57,293.6 L327.91,293.5 L328.25,293.4 L328.59,293.2 L328.93,293.1 L329.26,293.0 L329.60,292.9 L329.94,292.8 L330.28,292.6 L330.62,292.5 L330.95,292.4 L331.29,292.3 L331.63,292.2 L331.97,292.0 L332.31,291.9 L332.65,291.8 L332.98,291.7 L333.32,291.5 L333.66,291.4 L334.00,291.3 L334.34,291.1 L334.67,291.0 L335.01,290.9 L335.35,290.7 L335.69,290.6 L336.03,290.5 L336.37,290.3 L336.70,290.2 L337.04,290.0 L337.38,289.9 L337.72,289.8 L338.06,289.6 L338.39,289.5 L338.73,289.3 L339.07,289.2 L339.41,289.0 L339.75,288.9 L340.08,288.7 L340.42,288.6 L340.76,288.4 L341.10,288.3 L341.44,288.1 L341.78,288.0 L342.11,287.8 L342.45,287.7 L342.79,287.5 L343.13,287.4 L343.47,287.2 L343.80,287.1 L344.14,286.9 L344.48,286.7 L344.82,286.6 L345.16,286.4 L345.50,286.2 L345.83,286.1" fill="none" stroke="#0000ff" stroke-width="0.9" stroke-linejoin="round"/>
<path transform="scale(2.4,1)" d="M278.75,301.9 L280.33,279.6 L280.55,279.6 L280.77,279.6 L280.99,279.6 L281.21,279.7 L281.43,279.7 L281.65,279.8 L281.87,279.8 L282.09,279.9 L282.30,280.1 L282.52,280.5 L282.74,281.1 L282.96,281.7 L283.18,282.2 L283.40,282.7 L283.62,283.2 L283.84,283.7 L284.06,284.2 L284.28,284.6 L284.50,285.1 L284.71,285.6 L284.93,286.0 L285.15,286.5 L285.37,287.0 L285.59,287.4 L285.81,287.9 L286.03,288.3 L286.25,288.8 L286.47,289.2 L286.69,289.7 L286.91,290.2 L287.12,290.6 L287.34,291.1 L287.56,291.5 L287.78,291.9 L288.00,292.3 L288.22,292.7 L288.44,293.0 L288.66,293.3 L288.88,293.6 L289.10,293.9 L289.31,294.2 L289.53,294.5 L289.75,294.7 L289.97,295.0 L290.19,295.2 L290.41,295.5 L290.63,295.7 L290.85,295.9 L291.07,296.1 L291.29,296.3 L291.51,296.5 L291.72,296.6 L291.94,296.8 L292.16,297.0 L292.38,297.1 L292.60,297.3 L292.82,297.4 L293.04,297.5 L293.26,297.7 L293.48,297.7 L293.70,297.8 L293.92,297.9 L294.13,298.0 L294.35,298.1 L294.57,298.1 L294.79,298.2 L295.01,298.3 L295.23,298.3 L295.45,298.3 L295.67,298.4 L295.89,298.4 L296.11,298.4 L296.32,298.4 L296.54,298.4 L296.76,298.5 L296.98,298.5 L297.20,298.5 L297.42,298.5 L297.64,298.5 L297.86,298.5 L298.08,298.5 L298.30,298.5 L298.52,298.5 L298.73,298.5 L298.95,298.5 L299.17,298.4 L299.39,298.4 L299.61,298.3 L299.83,298.2 L300.05,298.2 L300.27,298.1 L300.49,298.0 L300.71,298.0 L300.93,297.9 L301.14,297.8 L301.36,297.8 L301.58,297.7 L301.80,297.6 L302.02,297.6 L302.24,297.5 L302.46,297.4 L302.68,297.3 L302.90,297.3 L303.12,297.2 L303.34,297.1 L303.55,297.1 L303.77,297.0 L303.99,296.9 L304.21,296.8 L304.43,296.7 L304.65,296.6 L304.87,296.6 L305.09,296.5 L305.31,296.4 L305.53,296.3 L305.74,296.3 L305.96,296.2 L306.18,296.1 L306.40,296.1 L306.62,296.0 L306.84,295.9 L307.06,295.9 L307.28,295.8 L307.50,295.8 L307.72,295.7 L307.94,295.7 L308.15,295.6 L308.37,295.6 L308.59,295.6 L308.81,295.6 L309.03,295.6 L309.25,295.6 L309.47,295.5 L309.69,295.5 L309.91,295.5 L310.13,295.5 L310.35,295.5 L310.56,295.5 L310.78,295.5 L311.00,295.5 L311.22,295.5 L311.44,295.5 L311.66,295.5 L311.88,295.5 L312.10,295.6 L312.32,295.6 L312.54,295.6 L312.75,295.6 L312.97,295.6 L313.19,295.7 L313.41,295.7 L313.63,295.7 L313.85,295.8 L314.07,295.8 L314.29,295.9 L314.51,295.9 L314.73,296.0 L314.95,296.1 L315.16,296.1 L315.38,296.2 L315.60,296.3 L315.82,296.4 L316.04,296.4 L316.26,296.5 L316.48,296.6 L316.70,296.7 L316.92,296.7 L317.14,296.8 L317.36,296.9 L317.57,296.9 L317.79,297.0 L318.01,297.1 L318.23,297.2 L318.45,297.2 L318.67,297.3 L318.89,297.4 L319.11,297.5 L319.33,297.5 L319.55,297.6 L319.76,297.7 L319.98,297.8 L320.20,297.9 L320.42,298.0 L320.64,298.0 L320.86,298.1 L321.08,298.2 L321.30,298.3 L321.52,298.4 L321.74,298.5 L321.96,298.7 L322.17,298.8 L322.39,298.9 L322.61,299.0 L322.83,299.1 L323.05,299.2 L323.27,299.3 L323.49,299.4 L323.71,299.5 L323.93,299.6 L324.15,299.7 L324.37,299.8 L324.58,299.9 L324.80,300.0 L325.02,300.1 L325.24,300.2 L325.46,300.3 L325.68,300.4 L325.90,300.5 L326.12,300.5 L326.34,300.6 L326.56,300.7 L326.77,300.8 L326.99,300.9 L327.21,300.9 L327.43,301.0 L327.65,301.1 L327.87,301.1 L328.09,301.2 L328.31,301.2 L328.53,301.3 L328.75,301.3 L328.97,301.4 L329.18,301.4 L329.40,301.4 L329.62,301.5 L329.84,301.5 L330.06,301.6 L330.28,301.6 L330.50,301.6 L330.72,301.7 L330.94,301.7 L331.16,301.7 L331.38,301.7 L331.59,301.8 L331.81,301.8 L332.03,301.8 L332.25,301.8 L332.47,301.8 L332.69,301.8 L332.91,301.8 L333.13,301.8 L333.35,301.8 L333.57,301.8 L333.78,301.8 L334.00,301.8 L334.22,301.8 L334.44,301.8 L334.66,301.8 L334.88,301.8 L335.10,301.8 L335.32,301.8 L335.54,301.8 L335.76,301.8 L335.98,301.8 L336.19,301.8 L336.41,301.8 L336.63,301.8 L336.85,301.8 L337.07,301.8 L337.29,301.7 L337.51,301.7 L337.73,301.7 L337.95,301.6 L338.17,301.5 L338.39,301.5 L338.60,301.4 L338.82,301.3 L339.04,301.3 L339.26,301.2 L339.48,301.1 L339.70,301.0 L339.92,300.9 L340.14,300.8 L340.36,300.7 L340.58,300.6 L340.79,300.5 L341.01,300.4 L341.23,300.3 L341.45,300.2 L341.67,300.0 L341.89,299.9 L342.11,299.7 L342.33,299.6 L342.55,299.4 L342.77,299.3 L342.99,299.1 L343.20,299.0 L343.42,298.8 L343.64,298.7 L343.86,298.5 L344.08,298.4 L344.30,298.2 L344.52,298.0 L344.74,297.9 L344.96,297.7 L345.18,297.5 L345.40,297.4 L345.61,297.2 L345.83,297.0" fill="none" stroke="#000" stroke-width="1.0" stroke-linejoin="round"/>
</g>
<g opacity="0.999"><g font-family="Liberation Sans, sans-serif" fill="#000">
<line x1="128.4" y1="117.0" x2="550.7" y2="117.0" stroke="#858585" stroke-width="1.7"/>
<line x1="128.4" y1="301.9" x2="550.7" y2="301.9" stroke="#858585" stroke-width="1.7"/>
<line x1="140.8" y1="116.5" x2="140.8" y2="302.4" stroke="#000" stroke-width="2.4"/>
<line x1="551.0" y1="116.5" x2="551.0" y2="302.4" stroke="#000" stroke-width="2.4"/>
<text x="121.4" y="304.7" font-size="9.2" text-anchor="end" textLength="11.4" lengthAdjust="spacingAndGlyphs">0</text>
<line x1="133.0" y1="283.4" x2="140.8" y2="283.4" stroke="#555" stroke-width="1.1"/>
<line x1="542.9" y1="283.4" x2="550.7" y2="283.4" stroke="#555" stroke-width="1.1"/>
<line x1="128.4" y1="264.9" x2="140.8" y2="264.9" stroke="#444" stroke-width="1.4"/>
<line x1="538.3" y1="264.9" x2="550.7" y2="264.9" stroke="#444" stroke-width="1.4"/>
<text x="121.4" y="267.7" font-size="9.2" text-anchor="end" textLength="11.4" lengthAdjust="spacingAndGlyphs">5</text>
<line x1="133.0" y1="246.4" x2="140.8" y2="246.4" stroke="#555" stroke-width="1.1"/>
<line x1="542.9" y1="246.4" x2="550.7" y2="246.4" stroke="#555" stroke-width="1.1"/>
<line x1="128.4" y1="227.9" x2="140.8" y2="227.9" stroke="#444" stroke-width="1.4"/>
<line x1="538.3" y1="227.9" x2="550.7" y2="227.9" stroke="#444" stroke-width="1.4"/>
<text x="121.4" y="230.7" font-size="9.2" text-anchor="end" textLength="24.8" lengthAdjust="spacingAndGlyphs">10</text>
<line x1="133.0" y1="209.4" x2="140.8" y2="209.4" stroke="#555" stroke-width="1.1"/>
<line x1="542.9" y1="209.4" x2="550.7" y2="209.4" stroke="#555" stroke-width="1.1"/>
<line x1="128.4" y1="191.0" x2="140.8" y2="191.0" stroke="#444" stroke-width="1.4"/>
<line x1="538.3" y1="191.0" x2="550.7" y2="191.0" stroke="#444" stroke-width="1.4"/>
<text x="121.4" y="193.8" font-size="9.2" text-anchor="end" textLength="24.8" lengthAdjust="spacingAndGlyphs">15</text>
<line x1="133.0" y1="172.5" x2="140.8" y2="172.5" stroke="#555" stroke-width="1.1"/>
<line x1="542.9" y1="172.5" x2="550.7" y2="172.5" stroke="#555" stroke-width="1.1"/>
<line x1="128.4" y1="154.0" x2="140.8" y2="154.0" stroke="#444" stroke-width="1.4"/>
<line x1="538.3" y1="154.0" x2="550.7" y2="154.0" stroke="#444" stroke-width="1.4"/>
<text x="121.4" y="156.8" font-size="9.2" text-anchor="end" textLength="24.8" lengthAdjust="spacingAndGlyphs">20</text>
<line x1="133.0" y1="135.5" x2="140.8" y2="135.5" stroke="#555" stroke-width="1.1"/>
<line x1="542.9" y1="135.5" x2="550.7" y2="135.5" stroke="#555" stroke-width="1.1"/>
<text x="121.4" y="119.8" font-size="9.2" text-anchor="end" textLength="24.8" lengthAdjust="spacingAndGlyphs">25</text>
<line x1="147.5" y1="301.9" x2="147.5" y2="305.7" stroke="#000" stroke-width="2"/>
<line x1="147.5" y1="117.0" x2="147.5" y2="120.8" stroke="#000" stroke-width="2"/>
<text x="148.3" y="314.2" font-size="9.2" text-anchor="middle" textLength="31" lengthAdjust="spacingAndGlyphs">1.0</text>
<line x1="192.3" y1="301.9" x2="192.3" y2="303.9" stroke="#000" stroke-width="2"/>
<line x1="192.3" y1="117.0" x2="192.3" y2="119.0" stroke="#000" stroke-width="2"/>
<line x1="237.1" y1="301.9" x2="237.1" y2="305.7" stroke="#000" stroke-width="2"/>
<line x1="237.1" y1="117.0" x2="237.1" y2="120.8" stroke="#000" stroke-width="2"/>
<text x="237.9" y="314.2" font-size="9.2" text-anchor="middle" textLength="31" lengthAdjust="spacingAndGlyphs">1.1</text>
<line x1="281.8" y1="301.9" x2="281.8" y2="303.9" stroke="#000" stroke-width="2"/>
<line x1="281.8" y1="117.0" x2="281.8" y2="119.0" stroke="#000" stroke-width="2"/>
<line x1="326.6" y1="301.9" x2="326.6" y2="305.7" stroke="#000" stroke-width="2"/>
<line x1="326.6" y1="117.0" x2="326.6" y2="120.8" stroke="#000" stroke-width="2"/>
<text x="327.4" y="314.2" font-size="9.2" text-anchor="middle" textLength="31" lengthAdjust="spacingAndGlyphs">1.2</text>
<line x1="371.4" y1="301.9" x2="371.4" y2="303.9" stroke="#000" stroke-width="2"/>
<line x1="371.4" y1="117.0" x2="371.4" y2="119.0" stroke="#000" stroke-width="2"/>
<line x1="416.1" y1="301.9" x2="416.1" y2="305.7" stroke="#000" stroke-width="2"/>
<line x1="416.1" y1="117.0" x2="416.1" y2="120.8" stroke="#000" stroke-width="2"/>
<text x="416.9" y="314.2" font-size="9.2" text-anchor="middle" textLength="31" lengthAdjust="spacingAndGlyphs">1.3</text>
<line x1="460.9" y1="301.9" x2="460.9" y2="303.9" stroke="#000" stroke-width="2"/>
<line x1="460.9" y1="117.0" x2="460.9" y2="119.0" stroke="#000" stroke-width="2"/>
<line x1="505.7" y1="301.9" x2="505.7" y2="305.7" stroke="#000" stroke-width="2"/>
<line x1="505.7" y1="117.0" x2="505.7" y2="120.8" stroke="#000" stroke-width="2"/>
<text x="506.5" y="314.2" font-size="9.2" text-anchor="middle" textLength="31" lengthAdjust="spacingAndGlyphs">1.4</text>
<line x1="655.9" y1="117.0" x2="830.0" y2="117.0" stroke="#858585" stroke-width="1.7"/>
<line x1="655.9" y1="301.9" x2="830.0" y2="301.9" stroke="#858585" stroke-width="1.7"/>
<line x1="668.3" y1="116.5" x2="668.3" y2="302.4" stroke="#000" stroke-width="2.4"/>
<text x="648.9" y="304.7" font-size="9.2" text-anchor="end" textLength="11.4" lengthAdjust="spacingAndGlyphs">0</text>
<line x1="660.5" y1="283.4" x2="668.3" y2="283.4" stroke="#555" stroke-width="1.1"/>
<line x1="655.9" y1="264.9" x2="668.3" y2="264.9" stroke="#444" stroke-width="1.4"/>
<text x="648.9" y="267.7" font-size="9.2" text-anchor="end" textLength="11.4" lengthAdjust="spacingAndGlyphs">5</text>
<line x1="660.5" y1="246.4" x2="668.3" y2="246.4" stroke="#555" stroke-width="1.1"/>
<line x1="655.9" y1="227.9" x2="668.3" y2="227.9" stroke="#444" stroke-width="1.4"/>
<text x="648.9" y="230.7" font-size="9.2" text-anchor="end" textLength="24.8" lengthAdjust="spacingAndGlyphs">10</text>
<line x1="660.5" y1="209.4" x2="668.3" y2="209.4" stroke="#555" stroke-width="1.1"/>
<line x1="655.9" y1="191.0" x2="668.3" y2="191.0" stroke="#444" stroke-width="1.4"/>
<text x="648.9" y="193.8" font-size="9.2" text-anchor="end" textLength="24.8" lengthAdjust="spacingAndGlyphs">15</text>
<line x1="660.5" y1="172.5" x2="668.3" y2="172.5" stroke="#555" stroke-width="1.1"/>
<line x1="655.9" y1="154.0" x2="668.3" y2="154.0" stroke="#444" stroke-width="1.4"/>
<text x="648.9" y="156.8" font-size="9.2" text-anchor="end" textLength="24.8" lengthAdjust="spacingAndGlyphs">20</text>
<line x1="660.5" y1="135.5" x2="668.3" y2="135.5" stroke="#555" stroke-width="1.1"/>
<text x="648.9" y="119.8" font-size="9.2" text-anchor="end" textLength="24.8" lengthAdjust="spacingAndGlyphs">25</text>
<line x1="675.0" y1="301.9" x2="675.0" y2="305.7" stroke="#000" stroke-width="2"/>
<line x1="675.0" y1="117.0" x2="675.0" y2="120.8" stroke="#000" stroke-width="2"/>
<text x="675.8" y="314.2" font-size="9.2" text-anchor="middle" textLength="31" lengthAdjust="spacingAndGlyphs">1.0</text>
<line x1="719.8" y1="301.9" x2="719.8" y2="303.9" stroke="#000" stroke-width="2"/>
<line x1="719.8" y1="117.0" x2="719.8" y2="119.0" stroke="#000" stroke-width="2"/>
<line x1="764.5" y1="301.9" x2="764.5" y2="305.7" stroke="#000" stroke-width="2"/>
<line x1="764.5" y1="117.0" x2="764.5" y2="120.8" stroke="#000" stroke-width="2"/>
<text x="765.3" y="314.2" font-size="9.2" text-anchor="middle" textLength="31" lengthAdjust="spacingAndGlyphs">1.1</text>
<line x1="809.3" y1="301.9" x2="809.3" y2="303.9" stroke="#000" stroke-width="2"/>
<line x1="809.3" y1="117.0" x2="809.3" y2="119.0" stroke="#000" stroke-width="2"/>
</g>
<text x="166.9" y="141.1" font-family="Liberation Sans, sans-serif" font-size="15.8" font-weight="bold" textLength="84.3" lengthAdjust="spacingAndGlyphs" stroke="#000" stroke-width="0.5">Sol.</text>
<text x="254.6" y="141.1" font-family="Liberation Serif, sans-serif" font-size="17" font-weight="bold" textLength="17.7" lengthAdjust="spacingAndGlyphs" stroke="#000" stroke-width="0.3">I</text>
<text x="694.4" y="141.1" font-family="Liberation Sans, sans-serif" font-size="15.8" font-weight="bold" textLength="84.3" lengthAdjust="spacingAndGlyphs" stroke="#000" stroke-width="0.5">Sol.</text>
<text x="782.1" y="141.1" font-family="Liberation Serif, sans-serif" font-size="17" font-weight="bold" textLength="17.7" lengthAdjust="spacingAndGlyphs" stroke="#000" stroke-width="0.3">I</text>
<text x="180.4" y="160.9" font-family="Liberation Serif, sans-serif" font-size="16.3" font-weight="bold" textLength="70.0" lengthAdjust="spacingAndGlyphs" stroke="#000" stroke-width="0.3">I=0</text>
<text x="707.8" y="160.9" font-family="Liberation Serif, sans-serif" font-size="16.3" font-weight="bold" textLength="67.5" lengthAdjust="spacingAndGlyphs" stroke="#000" stroke-width="0.3">I=1</text>
<text x="156.9" y="204.3" font-family="Liberation Sans, sans-serif" font-size="13.2" font-weight="bold" textLength="21.6" lengthAdjust="spacingAndGlyphs" stroke="#000" stroke-width="0.3">S</text>
<text x="677.8" y="261.3" font-family="Liberation Sans, sans-serif" font-size="13.2" font-weight="bold" textLength="21.4" lengthAdjust="spacingAndGlyphs" stroke="#000" stroke-width="0.3">S</text>
<text x="385.3" y="132.5" font-family="Liberation Sans, sans-serif" font-size="12" font-weight="bold" textLength="22.8" lengthAdjust="spacingAndGlyphs" stroke="#000" stroke-width="0.35">D</text>
<text x="410.3" y="137" font-family="Liberation Sans, sans-serif" font-size="10" font-weight="bold" textLength="14.9" lengthAdjust="spacingAndGlyphs" stroke="#000" stroke-width="0.3">2</text>
<text x="445.0" y="289.6" font-family="Liberation Sans, sans-serif" font-size="11.8" font-weight="bold" textLength="22.5" lengthAdjust="spacingAndGlyphs" stroke="#000" stroke-width="0.35">D</text>
<text x="470.3" y="294.7" font-family="Liberation Sans, sans-serif" font-size="10.5" font-weight="bold" textLength="14.0" lengthAdjust="spacingAndGlyphs" stroke="#000" stroke-width="0.3">0</text>
<text x="276.5" y="327.5" font-family="Liberation Sans, sans-serif" font-size="10.6" font-weight="normal" textLength="29.0" lengthAdjust="spacingAndGlyphs">m(</text>
<text x="305.9" y="327.5" font-family="Liberation Serif, sans-serif" font-size="9.6" font-weight="normal" textLength="33.0" lengthAdjust="spacingAndGlyphs">KK</text>
<line x1="324.3" y1="319.5" x2="339.3" y2="319.5" stroke="#000" stroke-width="0.9"/>
<text x="339.9" y="327.5" font-family="Liberation Sans, sans-serif" font-size="10.6" font-weight="normal" textLength="10.2" lengthAdjust="spacingAndGlyphs">)</text>
<text x="361.3" y="327.5" font-family="Liberation Sans, sans-serif" font-size="10.6" font-weight="normal" textLength="53.5" lengthAdjust="spacingAndGlyphs">GeV</text>
<text transform="translate(72.2,222) rotate(-90) scale(1,3.2)" font-family="Liberation Sans, sans-serif" font-size="8.6" textLength="20.3" lengthAdjust="spacingAndGlyphs" stroke="#000" stroke-width="0.08">σ(nb)</text>
<text x="804.0" y="327.5" font-family="Liberation Sans, sans-serif" font-size="10.6" font-weight="normal" textLength="29.0" lengthAdjust="spacingAndGlyphs">m(</text>
<text x="833.4" y="327.5" font-family="Liberation Serif, sans-serif" font-size="9.6" font-weight="normal" textLength="33.0" lengthAdjust="spacingAndGlyphs">KK</text>
<line x1="851.8" y1="319.5" x2="866.8" y2="319.5" stroke="#000" stroke-width="0.9"/>
<text x="867.4" y="327.5" font-family="Liberation Sans, sans-serif" font-size="10.6" font-weight="normal" textLength="10.2" lengthAdjust="spacingAndGlyphs">)</text>
<text x="888.8" y="327.5" font-family="Liberation Sans, sans-serif" font-size="10.6" font-weight="normal" textLength="53.5" lengthAdjust="spacingAndGlyphs">GeV</text>
<text transform="translate(599.7,222) rotate(-90) scale(1,3.2)" font-family="Liberation Sans, sans-serif" font-size="8.6" textLength="20.3" lengthAdjust="spacingAndGlyphs" stroke="#000" stroke-width="0.08">σ(nb)</text>
</g></svg>
</body></html>
